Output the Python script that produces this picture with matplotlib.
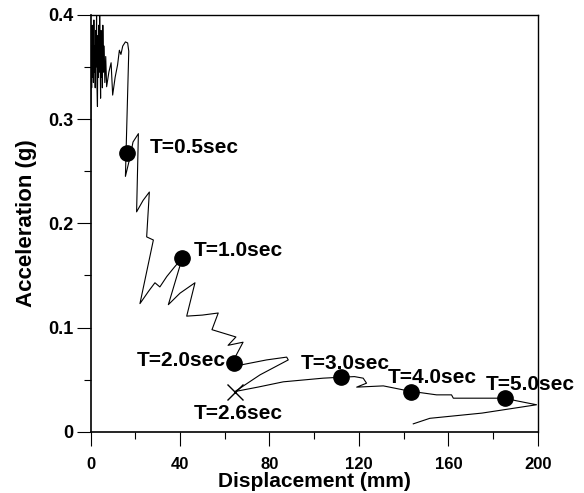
import matplotlib
matplotlib.use("Agg")
import matplotlib.pyplot as plt
from matplotlib.ticker import MultipleLocator

plt.rcParams['font.family'] = ['Liberation Sans', 'DejaVu Sans']
plt.rcParams['font.weight'] = 'bold'

# curva de capacidad (desplazamiento mm, aceleracion g)
disp = [0.1, 0.3, 0.5, 0.7, 0.9, 1.1, 1.3, 1.5, 1.7, 1.9, 2.1, 2.3, 2.5, 2.7,
        2.9, 3.1, 3.3, 3.5, 3.7, 3.9, 4.1, 4.3, 4.5, 4.7, 4.9, 5.1, 5.3, 5.5,
        5.8, 6.1, 6.4, 6.8, 7.2, 8.2, 9.2, 9.9, 11.0, 12.1, 12.9, 13.6,
        14.4, 15.6, 16.6, 17.1, 15.6, 17.5, 19.0, 21.4, 20.6, 23.5, 26.3,
        25.1, 28.1, 22.1, 26.0, 28.8, 31.0, 34.1, 37.5, 41.0, 34.8, 40.0,
        46.7, 43.0, 50.0, 57.1, 54.3, 65.0, 61.5, 68.2, 65.0, 64.1, 66.8,
        78.7, 87.7, 88.4, 75.8, 64.6, 75.0, 86.2, 104.0, 112.0, 118.0, 121.9,
        123.4, 119.0, 130.9, 143.5, 148.0, 154.7, 161.4, 162.2, 175.0, 185.3,
        190.0, 199.4, 175.0, 151.7, 144.3]
accel = [0.29, 0.37, 0.33, 0.39, 0.34, 0.38, 0.335, 0.395, 0.345, 0.37, 0.33,
         0.385, 0.35, 0.40, 0.33, 0.312, 0.38, 0.34, 0.39, 0.345, 0.40, 0.36,
         0.32, 0.385, 0.34, 0.375, 0.33, 0.39, 0.345, 0.37, 0.335, 0.36,
         0.331, 0.345, 0.354, 0.323, 0.340, 0.352, 0.366, 0.362, 0.370, 0.374,
         0.373, 0.365, 0.245, 0.262, 0.278, 0.286, 0.211, 0.222, 0.230, 0.187,
         0.184, 0.123, 0.135, 0.143, 0.139, 0.149, 0.158, 0.1666, 0.122, 0.133,
         0.143, 0.111, 0.112, 0.114, 0.098, 0.091, 0.083, 0.086, 0.073, 0.0665,
         0.064, 0.069, 0.0717, 0.069, 0.0547, 0.0387, 0.043, 0.048, 0.0515,
         0.0524, 0.053, 0.0515, 0.0467, 0.0429, 0.0441, 0.0387, 0.0375, 0.0355,
         0.0355, 0.0323, 0.0323, 0.0323, 0.030, 0.026, 0.018, 0.013, 0.0077]

# puntos marcados en el tiempo
tiempos = ["T=0.5sec", "T=1.0sec", "T=2.0sec", "T=3.0sec", "T=4.0sec", "T=5.0sec"]
disp_t = [16.2, 41.0, 64.1, 112.0, 143.5, 185.3]
accel_t = [0.267, 0.1666, 0.0665, 0.0524, 0.0387, 0.0323]

# punto de cruce
cruce_label = "T=2.6sec"
disp_cruce = 64.6
accel_cruce = 0.0387

fig = plt.figure(figsize=(5.84, 4.93), dpi=100)
ax = fig.add_axes([0.155, 0.124, 0.766, 0.846])

ax.plot(disp, accel, color='black', lw=0.8)
ax.plot(disp_t, accel_t, 'o', color='black', ms=11)
ax.plot(disp_cruce, accel_cruce, 'x', color='black', ms=11, mew=1.0)

# desplazamiento de las etiquetas (pixeles)
offsets = [(23, 6, 'left'), (12, 8, 'left'), (-8, 2, 'right'),
           (4, 14, 'center'), (21, 14, 'center'), (25, 14, 'center')]
for txt, xv, yv, (dx, dy, ha) in zip(tiempos, disp_t, accel_t, offsets):
    ax.annotate(txt, (xv, yv), xytext=(dx * 0.72, dy * 0.72),
                textcoords='offset points', ha=ha, va='center',
                fontsize=15, fontweight='bold')
ax.annotate(cruce_label, (disp_cruce, accel_cruce), xytext=(2, -16),
            textcoords='offset points', ha='center', va='center',
            fontsize=15, fontweight='bold')

ax.set_xlim(0, 200)
ax.set_ylim(0, 0.4)
ax.xaxis.set_major_locator(MultipleLocator(40))
ax.xaxis.set_minor_locator(MultipleLocator(20))
ax.yaxis.set_major_locator(MultipleLocator(0.1))
ax.yaxis.set_minor_locator(MultipleLocator(0.05))
ax.set_yticks([0, 0.1, 0.2, 0.3, 0.4])
ax.set_yticklabels(["0", "0.1", "0.2", "0.3", "0.4"])

ax.tick_params(which='major', direction='out', length=10, width=0.8)
ax.tick_params(which='minor', direction='out', length=5, width=0.8)
ax.tick_params(axis='x', which='major', labelsize=12, pad=8)
ax.tick_params(axis='y', which='major', labelsize=13, pad=2)
for lbl in ax.get_xticklabels() + ax.get_yticklabels():
    lbl.set_fontweight('bold')

ax.set_xlabel("Displacement (mm)", fontsize=15, fontweight='bold', labelpad=0)
ax.set_ylabel("Acceleration (g)", fontsize=16, fontweight='bold', labelpad=8)

for s in ['left', 'bottom']:
    ax.spines[s].set_linewidth(1.2)
for s in ['top', 'right']:
    ax.spines[s].set_linewidth(1.0)

fig.savefig("out.png", dpi=100)
